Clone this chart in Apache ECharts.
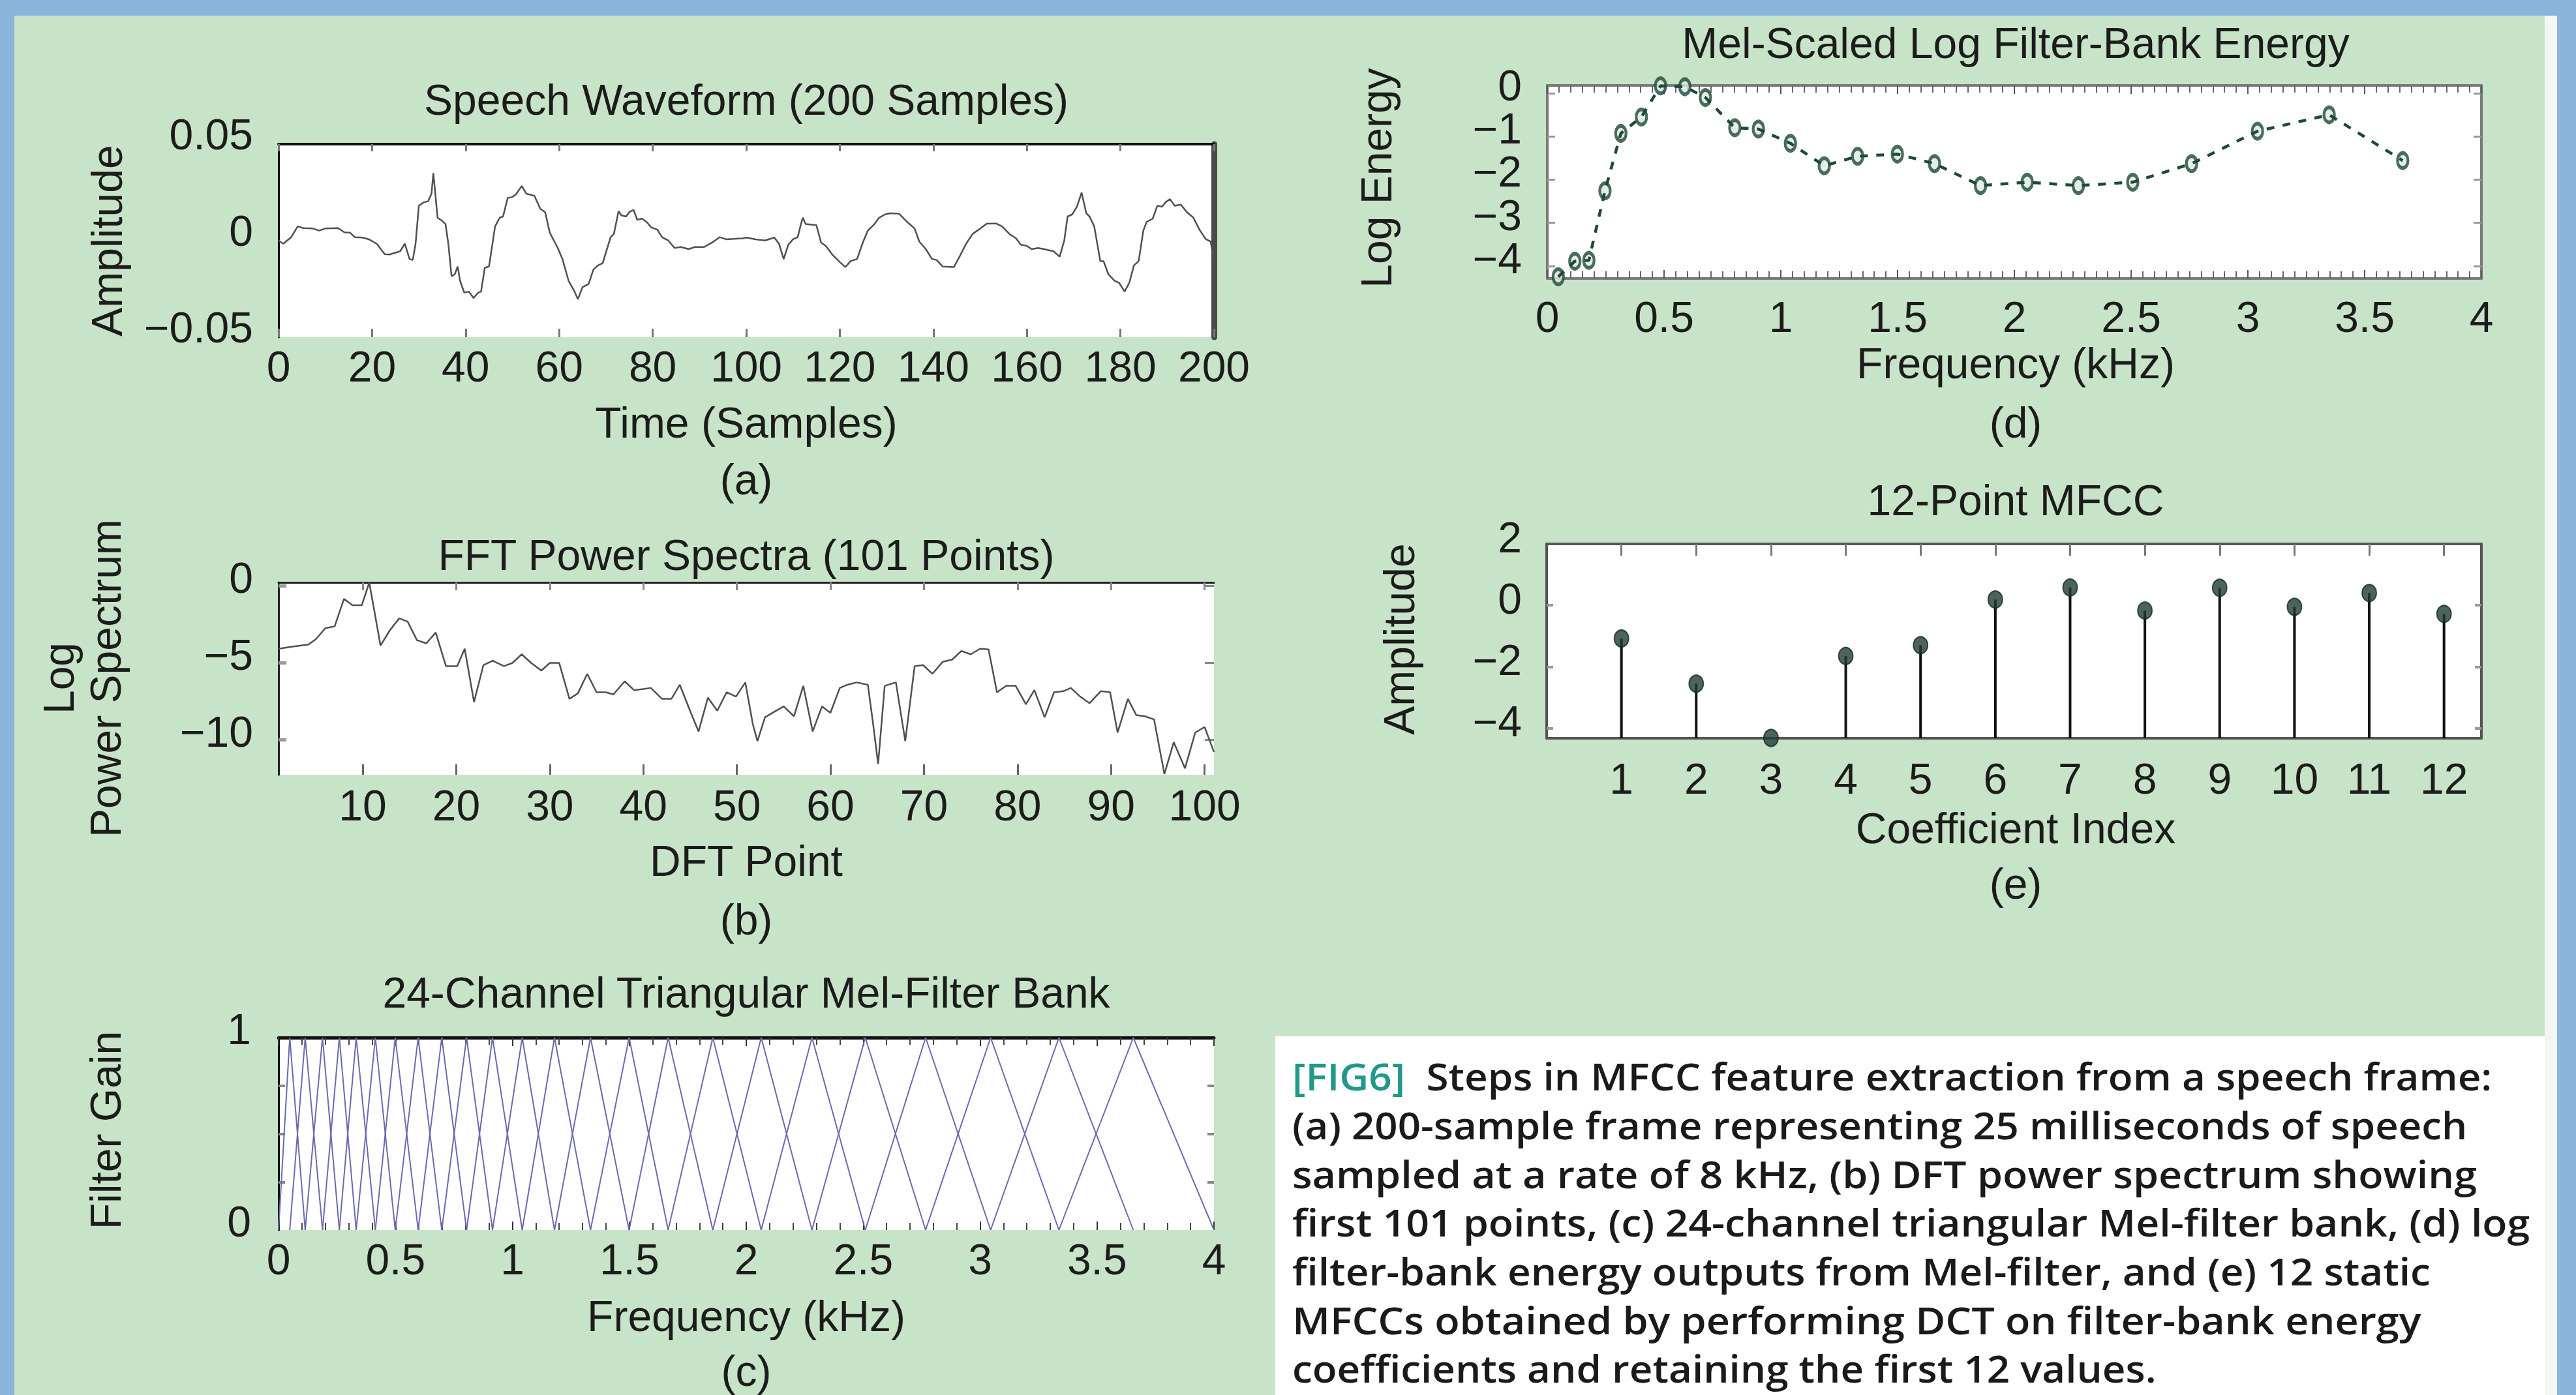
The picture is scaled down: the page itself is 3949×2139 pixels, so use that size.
<!DOCTYPE html>
<html><head><meta charset="utf-8">
<script src="https://cdn.jsdelivr.net/npm/echarts@6/dist/echarts.min.js"></script>
<style>html,body{margin:0;padding:0;background:#8ab4dc;overflow:hidden}#c{width:3949px;height:2139px}</style>
</head><body><div id="c"></div>
<script>
// ---------------- DATA ----------------
// (a) speech waveform: sample index / amplitude
const waveT = [0,1,2.7,4.1,5.3,7.3,8.7,10,12.7,14.1,15.3,16.3,18,19.3,21,22.7,23.7,26,27,28,28.7,29.3,30,31,32,32.7,33.1,34,35,35.7,36.3,37,37.7,38.3,38.8,39.7,40.7,41.7,42.7,43.3,44.1,45,46.3,47.3,48,49,50,50.7,52,53,54.7,56,57,58,59.7,60.7,62,63.3,64,65,66.3,67.3,68.3,69.3,70,71,71.7,72.7,73.3,74.3,75,75.9,76.7,77.7,78.7,79.7,81,82,83.3,84.7,86,87.7,89,91,92.7,94.3,95.7,97.3,99.3,
  100,102,104,106,107,108,109,110,111,111.7,112.1,112.7,115,116,117,118.4,120,121.2,122.3,123.7,125,126,127.4,128.4,129.7,130.7,132.7,134.4,136,137,138.4,139.7,140.7,142,144.4,145.7,147,148.4,149.7,151.4,153.4,154.7,156.4,157.7,158.7,160,161,162.4,163.7,164.7,165.7,167,168,168.7,169.7,170.7,171.7,172.7,173.4,174.4,175.7,176.4,177.4,178.7,179.7,180.9,181.9,182.9,183.9,184.9,185.6,186.9,187.9,188.9,189.6,190.6,191.6,192.9,194.2,195.6,196.9,198.3,199.3,200];
const waveAmp = [0.0001,-0.0016,0.0018,0.0074,0.0065,0.0063,0.0052,0.0063,0.0065,0.0043,0.0041,0.0018,0.0016,0.0007,-0.0016,-0.0070,-0.0072,-0.0055,-0.0016,-0.0095,-0.0100,-0.0016,0.0181,0.0198,0.0204,0.0243,0.0350,0.0119,0.0102,0.0086,-0.0016,-0.0185,-0.0173,-0.0134,-0.0207,-0.0269,-0.0264,-0.0297,-0.0269,-0.0264,-0.0140,-0.0134,0.0074,0.0119,0.0125,0.0221,0.0226,0.0238,0.0283,0.0243,0.0232,0.0164,0.0148,0.0041,-0.0038,-0.0095,-0.0207,-0.0264,-0.0303,-0.0241,-0.0224,-0.0151,-0.0128,-0.0117,-0.0061,0.0018,0.0035,0.0153,0.0131,0.0125,0.0148,0.0159,0.0108,0.0114,0.0097,0.0069,0.0057,0.0018,0.0001,-0.0038,-0.0033,-0.0044,-0.0033,-0.0033,-0.0010,0.0018,0.0007,0.0009,0.0012,
  0.0016,0.0007,0.0001,0.0016,-0.0016,-0.0095,-0.0021,0.0007,0.0018,0.0086,0.0119,0.0086,0.0080,-0.0010,-0.0027,-0.0072,-0.0111,-0.0137,-0.0106,-0.0095,-0.0005,0.0052,0.0086,0.0119,0.0136,0.0142,0.0139,0.0097,0.0063,-0.0005,-0.0044,-0.0095,-0.0100,-0.0134,-0.0137,-0.0078,-0.0016,0.0035,0.0057,0.0088,0.0089,0.0074,0.0032,0.0012,-0.0021,-0.0027,-0.0044,-0.0038,-0.0044,-0.0050,-0.0055,-0.0083,0.0001,0.0125,0.0136,0.0176,0.0249,0.0142,0.0125,0.0074,-0.0106,-0.0106,-0.0173,-0.0207,-0.0218,-0.0264,-0.0218,-0.0128,-0.0106,0.0052,0.0097,0.0114,0.0181,0.0176,0.0198,0.0215,0.0181,0.0187,0.0148,0.0119,0.0057,0.0007,-0.0005,-0.0106];

// (b) FFT log power spectrum: DFT point / log power
const specPoint = [1,2.5,4.2,5,6,7,8,8.9,9.9,10.7,11.9,12.9,13.9,14.8,15.8,16.8,17.8,18.9,20.1,20.9,21.9,22.9,23.9,25.1,26,27,28,29.1,30,31,32.1,33,34,35,36,36.8,38,39,40,40.8,42,43,43.9,44.9,45.9,46.9,47.9,48.9,49.9,50.9,51.7,52.2,53,54,55,56.1,57.1,58.1,59.1,60,61,61.8,62.8,64,64.5,65.1,65.8,67,68,69,69.9,70.9,72,73,74,75,76,76.9,77.8,78.8,79.8,80.9,81.8,82.9,83.9,84.9,85.7,86.7,87.7,88.9,89.9,90.7,91.8,92.7,93.6,94.6,95.7,96.7,97.9,99,100,101];
const specLogPow = [-4.10,-3.96,-3.82,-3.47,-2.76,-2.64,-0.85,-1.27,-1.27,0.21,-3.89,-2.90,-2.12,-2.33,-3.54,-3.75,-3.04,-5.23,-5.23,-4.10,-7.57,-5.16,-4.88,-5.23,-5.02,-4.46,-5.02,-5.52,-5.02,-5.02,-7.36,-7.00,-5.73,-6.93,-6.93,-7.07,-6.22,-6.79,-6.72,-6.65,-7.36,-7.36,-6.44,-7.99,-9.48,-7.28,-8.13,-6.93,-7.21,-6.29,-9.0,-10.11,-8.56,-8.20,-7.85,-8.49,-6.51,-9.48,-7.85,-8.27,-6.65,-6.44,-6.29,-6.44,-8.70,-11.60,-6.51,-6.29,-10.11,-5.23,-5.16,-5.73,-4.95,-4.81,-4.24,-4.46,-4.10,-4.14,-6.93,-6.51,-6.51,-7.71,-6.79,-8.56,-6.93,-6.86,-6.65,-7.21,-7.64,-6.86,-6.93,-9.55,-7.36,-8.42,-8.49,-8.70,-12.25,-10.18,-11.88,-9.55,-9.19,-10.82];

// (c) Mel filter-bank edge / centre frequencies in kHz (26 points -> 24 triangles)
const melEdgesKHz = [0,0.048,0.114,0.188,0.260,0.332,0.414,0.499,0.597,0.698,0.804,0.915,1.042,1.180,1.334,1.499,1.666,1.857,2.064,2.281,2.509,2.767,3.045,3.337,3.655,4.0];

// (d) log filter-bank energies
const fbankFreqKHz = [0.047,0.118,0.178,0.247,0.315,0.403,0.485,0.589,0.677,0.803,0.904,1.041,1.186,1.329,1.499,1.658,1.855,2.055,2.274,2.507,2.759,3.041,3.348,3.663];
const fbankLogEnergy = [-4.25,-3.89,-3.87,-2.26,-0.93,-0.55,0.17,0.15,-0.10,-0.80,-0.83,-1.16,-1.68,-1.46,-1.41,-1.63,-2.14,-2.06,-2.14,-2.06,-1.63,-0.88,-0.50,-1.56];

// (e) 12 MFCCs
const mfccIndex = [1,2,3,4,5,6,7,8,9,10,11,12];
const mfccValue = [-1.08,-2.55,-4.32,-1.65,-1.30,0.19,0.58,-0.17,0.57,-0.05,0.40,-0.28];

// tick values
const specXTicks = [10,20,30,40,50,60,70,80,90,100];
const specYTicks = [0,-5,-10];
const fbankYTicks = [0,-1,-2,-3,-4];
const mfccYLabels = [2,0,-2,-4];
const mfccYTicks = [0,-2,-4];

// ---------------- CHART ----------------
const FONT = 'Liberation Sans';
const TXT = '#1c1c1c';
const fmt = v => { if (Math.abs(v) < 1e-9) return '0'; return String(+(+v).toFixed(4)).replace('-', '\u2212'); };

const grids = [
  {left:427, top:221, width:1434, height:296},
  {left:427, top:893, width:1434, height:295},
  {left:427, top:1591, width:1434, height:295},
  {left:2372, top:131, width:1432, height:296},
  {left:2371, top:834, width:1433, height:298}
].map(g => Object.assign(g, {show:true, backgroundColor:'#ffffff', borderWidth:0, containLabel:false, outerBoundsMode:'none'}));

function ax(gridIndex, position, o) {
  const a = {
    type:'value', gridIndex, position, min:o.min, max:o.max,
    splitLine:{show:false}, splitArea:{show:false},
    axisLine:{show:!!o.line, onZero:false, lineStyle:o.line||{}},
    axisTick:{show:!!o.tick, inside:true, length:o.tick?o.tick.len:0,
              lineStyle:o.tick?{color:o.tick.color,width:o.tick.width}:{}},
    minorTick:o.minor?{show:true, splitNumber:o.minor.split, length:o.minor.len,
              lineStyle:{color:o.minor.color,width:o.minor.width}}:{show:false},
    axisLabel:{show:!!o.label}
  };
  if (o.interval != null) a.interval = o.interval;
  if (o.tick && o.tick.values) a.axisTick.customValues = o.tick.values;
  if (o.label) {
    Object.assign(a.axisLabel, {margin:o.label.margin, fontSize:66, fontFamily:FONT, color:TXT,
      formatter:fmt, hideOverlap:false, showMinLabel:true, showMaxLabel:true});
    if (o.label.values) a.axisLabel.customValues = o.label.values;
    if (o.label.lift) { a.axisLabel.verticalAlign = 'bottom'; a.axisLabel.lineHeight = 2*o.label.lift; }
  }
  return a;
}

const cTick = {len:13,color:'#333',width:2}, cMinor = {split:5,len:11,color:'#444',width:2};
const dTick = {len:13,color:'#555',width:2}, dMinor = {split:10,len:11,color:'#666',width:2};
const dLine = {color:'#7a7a7a',width:4};
const eLine = {color:'#555555',width:4};

const xAxis = [
  ax(0,'bottom',{min:0,max:200,interval:20,tick:{len:13,color:'#777',width:3},label:{margin:12}}),
  ax(0,'top',{min:0,max:200,interval:20,line:{color:'#111',width:4},tick:{len:11,color:'#777',width:3}}),
  ax(1,'bottom',{min:1,max:101,tick:{len:16,color:'#666',width:3,values:specXTicks},label:{margin:14,values:specXTicks}}),
  ax(1,'top',{min:1,max:101,line:{color:'#222',width:3},tick:{len:12,color:'#888',width:3,values:specXTicks}}),
  ax(2,'bottom',{min:0,max:4,interval:0.5,tick:cTick,minor:cMinor,label:{margin:12}}),
  ax(2,'top',{min:0,max:4,interval:0.5,line:{color:'#111',width:5},tick:cTick,minor:cMinor}),
  ax(3,'bottom',{min:0,max:4,interval:0.5,line:dLine,tick:dTick,minor:dMinor,label:{margin:26}}),
  ax(3,'top',{min:0,max:4,interval:0.5,line:dLine,tick:dTick,minor:dMinor}),
  ax(4,'bottom',{min:0,max:12.5,line:eLine,label:{margin:29,values:mfccIndex}}),
  ax(4,'top',{min:0,max:12.5,line:eLine,tick:{len:18,color:'#777',width:3,values:mfccIndex}})
];
const yAxis = [
  ax(0,'left',{min:-0.05,max:0.05,interval:0.05,line:{color:'#111',width:3},label:{margin:39,lift:15}}),
  ax(0,'right',{min:-0.05,max:0.05,interval:0.05,line:{color:'#4a4a4a',width:9}}),
  ax(1,'left',{min:-12.3,max:0.22,line:{color:'#222',width:3},tick:{len:12,color:'#999',width:5,values:specYTicks},label:{margin:39,lift:12,values:specYTicks}}),
  ax(1,'right',{min:-12.3,max:0.22,tick:{len:14,color:'#888',width:3,values:specYTicks}}),
  ax(2,'left',{min:0,max:1,interval:1,line:{color:'#111',width:3},minor:{split:4,len:10,color:'#888',width:4},label:{margin:42,lift:13}}),
  ax(2,'right',{min:0,max:1,interval:1,minor:{split:4,len:10,color:'#888',width:4}}),
  ax(3,'left',{min:-4.29,max:0.18,line:dLine,tick:{len:12,color:'#999',width:3,values:fbankYTicks},label:{margin:39,lift:12,values:fbankYTicks}}),
  ax(3,'right',{min:-4.29,max:0.18,line:dLine,tick:{len:12,color:'#999',width:3,values:fbankYTicks}}),
  ax(4,'left',{min:-4.33,max:2,line:eLine,tick:{len:10,color:'#999',width:4,values:mfccYTicks},label:{margin:38,lift:10,values:mfccYLabels}}),
  ax(4,'right',{min:-4.33,max:2,line:eLine,tick:{len:10,color:'#999',width:4,values:mfccYTicks}})
];

const GREEN = '#1d4a33';
const series = [];
series.push({type:'line', xAxisIndex:0, yAxisIndex:0, symbol:'none', clip:true,
  data: waveT.map((t,i)=>[t, waveAmp[i]]), lineStyle:{color:'#505050', width:2.5}});
series.push({type:'line', xAxisIndex:2, yAxisIndex:2, symbol:'none', clip:true,
  data: specPoint.map((p,i)=>[p, specLogPow[i]]), lineStyle:{color:'#505050', width:2.5}});
for (let i = 0; i + 2 < melEdgesKHz.length; i++) {
  series.push({type:'line', xAxisIndex:4, yAxisIndex:4, symbol:'none', clip:true,
    data:[[melEdgesKHz[i],0],[melEdgesKHz[i+1],1],[melEdgesKHz[i+2],0]],
    lineStyle:{color:'#6a6ab0', width:2}});
}
series.push({type:'line', xAxisIndex:6, yAxisIndex:6, clip:false, symbol:'none',
  data: fbankFreqKHz.map((f,i)=>[f, fbankLogEnergy[i]]),
  lineStyle:{color:GREEN, width:4.5, type:[12,13]}});
series.push({type:'scatter', xAxisIndex:6, yAxisIndex:6, clip:false,
  data: fbankFreqKHz.map((f,i)=>[f, fbankLogEnergy[i]]),
  symbol:'circle', symbolSize:[16,23],
  itemStyle:{color:'#dfe9e2', borderColor:GREEN, borderWidth:5}});
const MFCC_MIN = -4.33;
series.push({type:'custom', xAxisIndex:8, yAxisIndex:8,
  data: mfccIndex.map((k,i)=>[k, mfccValue[i]]),
  renderItem:(params, api) => {
    const p0 = api.coord([api.value(0), MFCC_MIN]);
    const p1 = api.coord([api.value(0), api.value(1)]);
    return {type:'line', shape:{x1:p0[0],y1:p0[1],x2:p1[0],y2:p1[1]}, style:{stroke:'#111', lineWidth:4}};
  }});
series.push({type:'scatter', xAxisIndex:8, yAxisIndex:8, clip:false,
  data: mfccIndex.map((k,i)=>[k, mfccValue[i]]),
  symbol:'circle', symbolSize:[22,26], itemStyle:{color:'#1f3d34', borderColor:'#0f2a22', borderWidth:2}});

// ---------------- TEXT ----------------
function T(text, x, y, rot, size) {
  return {type:'text', x, y, rotation: rot || 0, z:50,
    style:{text, fill:TXT, fontSize:size||66, fontFamily:FONT, align:'center', verticalAlign:'middle'}};
}
const R = Math.PI/2;
const texts = [
  T('Speech Waveform (200 Samples)',1144,153), T('Time (Samples)',1144,648), T('(a)',1144,735),
  T('Amplitude',164,369,R),
  T('FFT Power Spectra (101 Points)',1144,851), T('DFT Point',1144,1320), T('(b)',1144,1410),
  T('Log',90,1040,R), T('Power Spectrum',162,1040,R),
  T('24-Channel Triangular Mel-Filter Bank',1144,1522), T('Frequency (kHz)',1144,2018), T('(c)',1144,2102),
  T('Filter Gain',162,1733,R),
  T('Mel-Scaled Log Filter-Bank Energy',3090,66), T('Frequency (kHz)',3090,557), T('(d)',3090,648),
  T('Log Energy',2110,273,R),
  T('12-Point MFCC',3090,767), T('Coefficient Index',3090,1270), T('(e)',3090,1355),
  T('Amplitude',2145,980,R)
];

// caption
const captionLines = [
  '[FIG6]  Steps in MFCC feature extraction from a speech frame:',
  '(a) 200-sample frame representing 25 milliseconds of speech',
  'sampled at a rate of 8 kHz, (b) DFT power spectrum showing',
  'first 101 points, (c) 24-channel triangular Mel-filter bank, (d) log',
  'filter-bank energy outputs from Mel-filter, and (e) 12 static',
  'MFCCs obtained by performing DCT on filter-bank energy',
  'coefficients and retaining the first 12 values.'
];
const captionRight = [3821,3783,3798,3878,3727,3712,3306];
const CAP_LEFT = 1981, CAP_FONT = 'Open Sans', CAP_SIZE = 58, CAP_WEIGHT = 600;
const mctx = document.createElement('canvas').getContext('2d');
mctx.font = CAP_WEIGHT + ' ' + CAP_SIZE + 'px "' + CAP_FONT + '"';
captionLines.forEach((line, i) => {
  const w = mctx.measureText(line).width;
  const sx = (captionRight[i] - CAP_LEFT) / w;
  const isFirst = i === 0;
  texts.push({type:'text', x:CAP_LEFT, y:1650 + 74.6*i, scaleX:sx, scaleY:1, originX:0, originY:0, z:50,
    style:{
      text: isFirst ? '{f|[FIG6]}' + line.slice(6) : line,
      fill:'#1a1a1a', fontSize:CAP_SIZE, fontFamily:CAP_FONT, fontWeight:CAP_WEIGHT,
      align:'left', verticalAlign:'middle',
      rich: isFirst ? {f:{fill:'#23988a', fontSize:CAP_SIZE, fontFamily:CAP_FONT, fontWeight:CAP_WEIGHT}} : undefined
    }});
});

const backgrounds = [
  {type:'rect', z:-100, shape:{x:0,y:0,width:3949,height:2139}, style:{fill:'#8ab4dc'}},
  {type:'rect', z:-99, shape:{x:22,y:24,width:3879,height:2115}, style:{fill:'#c8e4c8'}},
  {type:'rect', z:-99, shape:{x:3901,y:24,width:19,height:2115}, style:{fill:'#f3f7f4'}},
  {type:'rect', z:-98, shape:{x:1955,y:1589,width:1946,height:550}, style:{fill:'#ffffff'}}
];

const chart = echarts.init(document.getElementById('c'), null, {renderer:'svg', width:3949, height:2139});
chart.setOption({
  animation:false,
  backgroundColor:'#8ab4dc',
  textStyle:{fontFamily:FONT},
  grid:grids, xAxis, yAxis, series,
  graphic:{elements: backgrounds.concat(texts)}
});
</script>
</body></html>
